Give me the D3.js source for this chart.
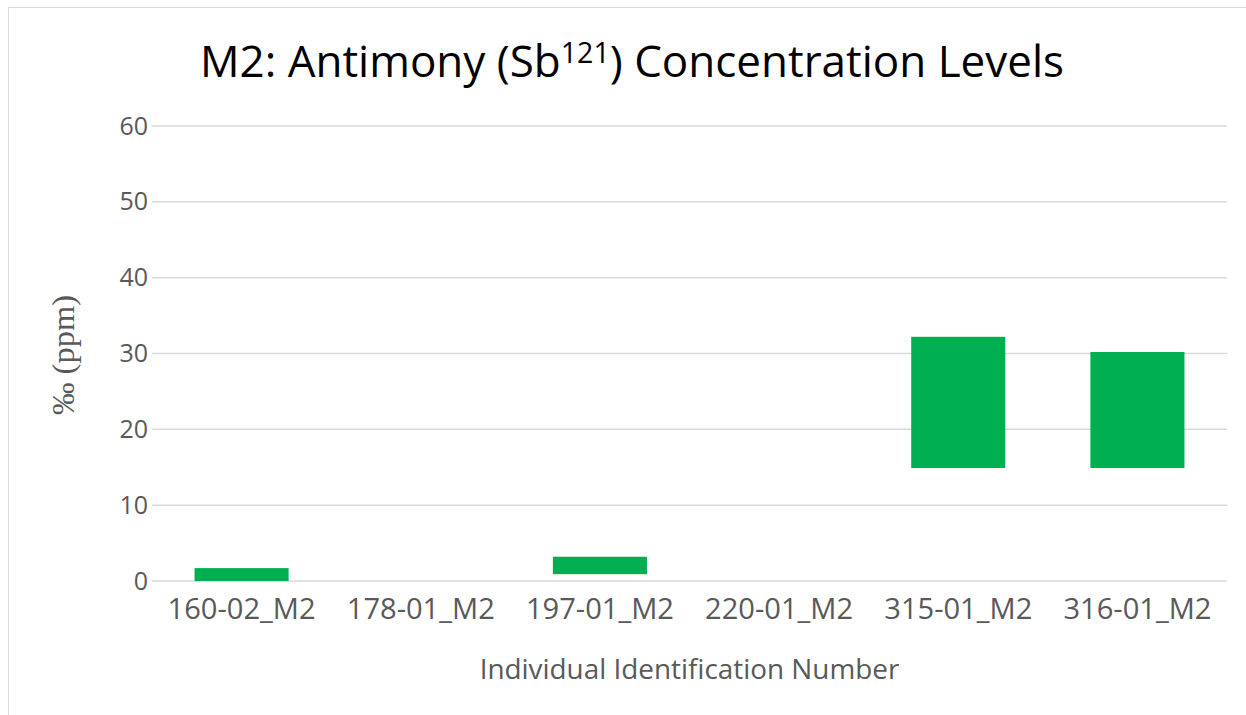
<!DOCTYPE html>
<html>
<head>
<meta charset="utf-8">
<script src="https://cdn.jsdelivr.net/npm/d3@7"></script>
<style>
  body { margin: 0; background: #fff; }
  text { font-family: "Open Sans", "Noto Sans", sans-serif; }
</style>
</head>
<body>
<div id="chartPlaceholder"></div>
<script>
const categories = ["160-02_M2", "178-01_M2", "197-01_M2", "220-01_M2", "315-01_M2", "316-01_M2"];
// floating bars: low / high (null = no measurement)
const lowValues = [0.0, null, 0.9, null, 14.9, 14.9];
const highValues = [1.7, null, 3.2, null, 32.2, 30.2];
const yTicks = [0, 10, 20, 30, 40, 50, 60];

const data = categories.map((c, i) => ({ name: c, low: lowValues[i], high: highValues[i] }));

const W = 1246, H = 715;
const margin = { top: 126, right: 19, bottom: 134, left: 152 },
  width = W - margin.left - margin.right,
  height = H - margin.top - margin.bottom;

const svg = d3.select("#chartPlaceholder").append("svg").attr("width", W).attr("height", H);

// outer chart border
svg.append("rect")
  .attr("x", 8.5).attr("y", 7.5)
  .attr("width", W + 10).attr("height", H + 10)
  .attr("fill", "none").attr("stroke", "#d9d9d9").attr("stroke-width", 1);

const g = svg.append("g").attr("transform", `translate(${margin.left}, ${margin.top})`);

const x = d3.scaleBand().range([0, width]).domain(categories).paddingInner(0.475).paddingOuter(0.2375);
const y = d3.scaleLinear().range([height, 0]).domain([0, 60]);

// fit text to a target width
function fitWidth(sel, target) {
  const node = sel.node();
  const fs = parseFloat(sel.attr("font-size"));
  const w = node.getComputedTextLength();
  sel.attr("font-size", (fs * target / w).toFixed(2));
}

// gridlines
g.append("g")
  .selectAll("line")
  .data(yTicks)
  .join("line")
  .attr("x1", 0).attr("x2", width)
  .attr("y1", (d) => y(d)).attr("y2", (d) => y(d))
  .attr("stroke", "#d9d9d9").attr("stroke-width", 1.5);

// y axis
const yAxis = g.append("g")
  .call(d3.axisLeft(y).tickValues(yTicks).tickSize(0).tickPadding(4));
yAxis.select(".domain").remove();
yAxis.selectAll("text")
  .attr("font-size", 25).attr("fill", "#595959")
  .style("font-family", "'Open Sans', sans-serif");

// bars
g.selectAll(".bar")
  .data(data.filter((d) => d.low !== null))
  .join("rect")
  .attr("class", "bar")
  .attr("x", (d) => x(d.name))
  .attr("width", x.bandwidth())
  .attr("y", (d) => y(d.high))
  .attr("height", (d) => y(d.low) - y(d.high))
  .attr("fill", "#00b050");

// x axis
const xAxis = g.append("g")
  .attr("transform", `translate(0, ${height})`)
  .call(d3.axisBottom(x).tickSize(0).tickPadding(17));
xAxis.select(".domain").remove();
xAxis.selectAll("text")
  .attr("font-size", 24).attr("fill", "#595959")
  .style("font-family", "'Open Sans', sans-serif")
  .each(function () { fitWidth(d3.select(this), 148); });

// axis titles
const xTitle = svg.append("text")
  .attr("x", margin.left + width / 2).attr("y", 679)
  .attr("text-anchor", "middle")
  .attr("font-size", 26).attr("fill", "#595959")
  .text("Individual Identification Number");
fitWidth(xTitle, 420);

const yTitle = svg.append("text")
  .attr("transform", `translate(74, 355) rotate(-90)`)
  .attr("text-anchor", "middle")
  .attr("font-size", 32).attr("fill", "#595959")
  .style("font-family", "'Liberation Serif', 'DejaVu Serif', serif")
  .text("‰ (ppm)");
fitWidth(yTitle, 120);

// title
const title = svg.append("text")
  .attr("x", 632).attr("y", 77)
  .attr("text-anchor", "middle")
  .attr("font-size", 40).attr("fill", "#000");
title.append("tspan").text("M2: Antimony (Sb");
title.append("tspan").attr("dy", -14).attr("font-size", 26).text("121");
title.append("tspan").attr("dy", 14).text(") Concentration Levels");
fitWidth(title, 864);
title.selectAll("tspan").filter((d, i) => i === 1).attr("font-size", parseFloat(title.attr("font-size")) * 0.65);
fitWidth(title, 864);
</script>
</body>
</html>
